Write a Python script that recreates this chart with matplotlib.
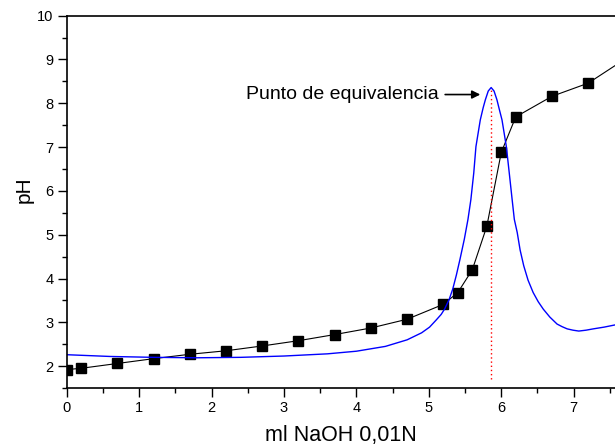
import numpy as np
import matplotlib.pyplot as plt
from matplotlib.ticker import MultipleLocator

plt.rcParams['font.family'] = ['Liberation Sans', 'DejaVu Sans']

# titulacion: volumen de NaOH (ml) y pH medido
vol = [0.0, 0.2, 0.7, 1.2, 1.7, 2.2, 2.7, 3.2, 3.7, 4.2, 4.7, 5.2, 5.4, 5.6,
       5.8, 6.0, 6.2, 6.7, 7.2, 7.7]
ph = [1.92, 1.95, 2.06, 2.17, 2.27, 2.35, 2.46, 2.58, 2.72, 2.87, 3.07, 3.41,
      3.68, 4.20, 5.19, 6.88, 7.69, 8.16, 8.46, 9.0]

# curva derivada (azul)
der_x = [0.0, 0.6, 1.2, 1.8, 2.4, 3.0, 3.6, 4.0, 4.4, 4.7, 4.9, 5.01, 5.1,
         5.17, 5.22, 5.28, 5.33, 5.38, 5.43, 5.49, 5.54, 5.58, 5.62, 5.65,
         5.71, 5.75, 5.78, 5.82, 5.86, 5.90, 5.94, 5.97, 6.01, 6.07, 6.11,
         6.15, 6.18, 6.22, 6.26, 6.31, 6.37, 6.44, 6.51, 6.58, 6.67, 6.77,
         6.84, 6.91, 6.99, 7.07, 7.17, 7.27, 7.42, 7.57, 7.7]
der_y = [2.26, 2.22, 2.20, 2.19, 2.20, 2.23, 2.28, 2.34, 2.45, 2.60, 2.76,
         2.89, 3.05, 3.18, 3.31, 3.52, 3.76, 4.08, 4.44, 4.90, 5.35, 5.80,
         6.41, 7.01, 7.62, 7.90, 8.08, 8.28, 8.36, 8.28, 8.08, 7.88, 7.62,
         7.01, 6.41, 5.80, 5.35, 5.05, 4.65, 4.29, 3.96, 3.68, 3.47, 3.30,
         3.12, 2.96, 2.90, 2.85, 2.82, 2.80, 2.82, 2.85, 2.89, 2.94, 2.98]

eq_x = 5.86
eq_low = 1.7
eq_top = 8.36
label_eq = "Punto de equivalencia"

fig = plt.figure(figsize=(6.15, 4.46), dpi=100)
ax = fig.add_axes([66.7 / 615, 58 / 446, 1 - 66.7 / 615, 372.3 / 446])

ax.plot(vol, ph, color='black', lw=0.8, marker='s', ms=6.5,
        markerfacecolor='black', markeredgecolor='black')
ax.plot(der_x, der_y, color='#0000ff', lw=1.0)
ax.plot([eq_x, eq_x], [eq_low, eq_top], color='red', lw=1.0, ls=(0, (1, 2)))

ax.annotate('', xy=(5.71, 8.2), xytext=(5.225, 8.2),
            arrowprops=dict(arrowstyle='-|>', color='black', lw=1.2,
                            mutation_scale=12, shrinkA=0, shrinkB=0))
ax.text(5.13, 8.2, label_eq, ha='right', va='center', fontsize=14)

ax.set_xlim(0, 7.57)
ax.set_ylim(1.5, 10)
ax.xaxis.set_major_locator(MultipleLocator(1))
ax.xaxis.set_minor_locator(MultipleLocator(0.5))
ax.yaxis.set_major_locator(MultipleLocator(1))
ax.yaxis.set_minor_locator(MultipleLocator(0.5))
ax.tick_params(which='major', direction='out', length=6.5, width=1,
               labelsize=10.5, pad=3)
ax.tick_params(which='minor', direction='out', length=3.5, width=1)
ax.spines['right'].set_visible(False)
for s in ['left', 'bottom', 'top']:
    ax.spines[s].set_linewidth(1.2)

ax.set_xlabel('ml NaOH 0,01N', fontsize=15.5, labelpad=7)
ax.set_ylabel('pH', fontsize=15)
ax.yaxis.set_label_coords(-0.061, 0.533)

fig.savefig('out.png', dpi=100)
